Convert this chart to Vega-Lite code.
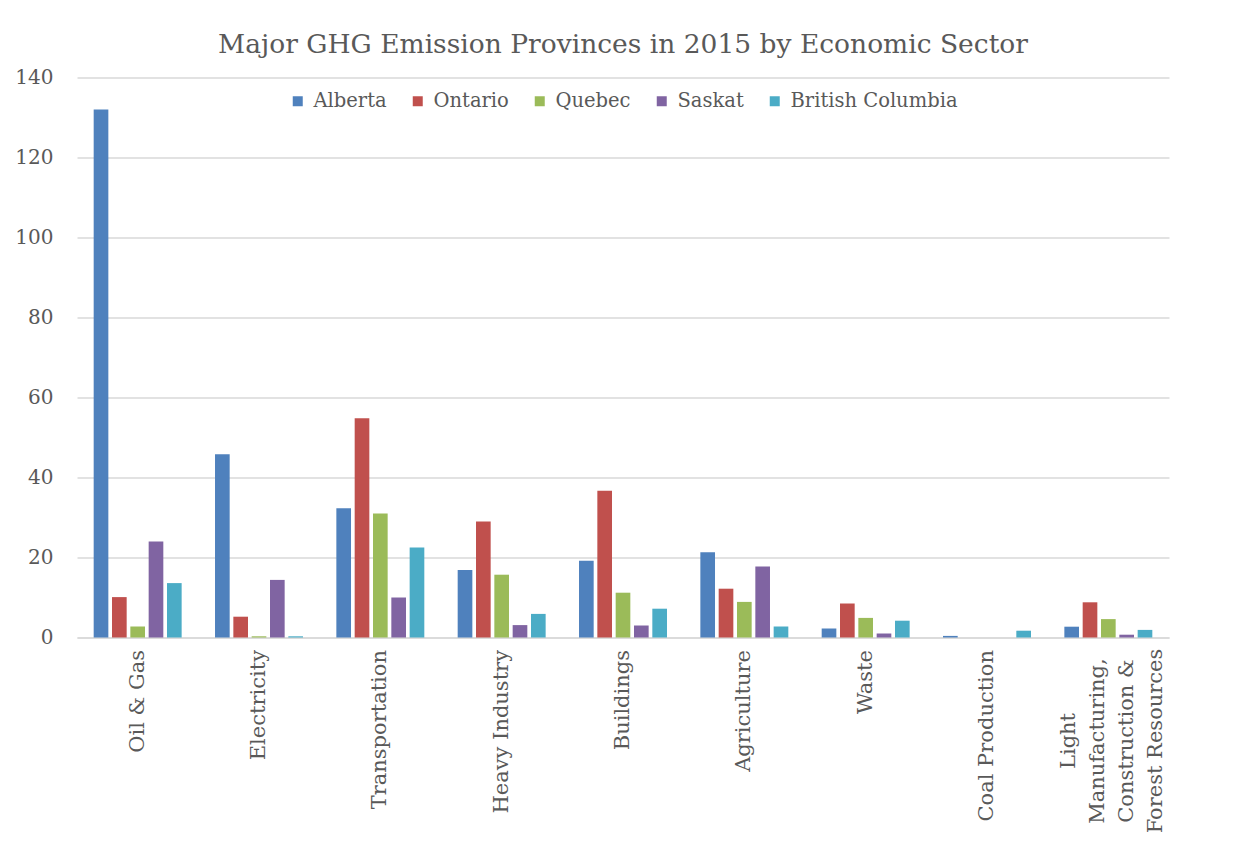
{
  "$schema": "https://vega.github.io/schema/vega-lite/v6.json",
  "width": 1092,
  "height": 560,
  "autosize": {"type": "none"},
  "padding": {"left": 77, "top": 77.5, "right": 81, "bottom": 205.5},
  "background": "white",
  "title": {
    "text": "Major GHG Emission Provinces in 2015 by Economic Sector",
    "font": "DejaVu Serif",
    "fontSize": 26.5,
    "fontWeight": "normal",
    "color": "#595959",
    "anchor": "middle",
    "offset": 9
  },
  "data": {
    "values": [
      {"sector": "Oil & Gas", "province": "Alberta", "value": 132},
      {"sector": "Oil & Gas", "province": "Ontario", "value": 10.1},
      {"sector": "Oil & Gas", "province": "Quebec", "value": 2.75},
      {"sector": "Oil & Gas", "province": "Saskat", "value": 24},
      {"sector": "Oil & Gas", "province": "British Columbia", "value": 13.6},
      {"sector": "Electricity", "province": "Alberta", "value": 45.8},
      {"sector": "Electricity", "province": "Ontario", "value": 5.2},
      {"sector": "Electricity", "province": "Quebec", "value": 0.3},
      {"sector": "Electricity", "province": "Saskat", "value": 14.4},
      {"sector": "Electricity", "province": "British Columbia", "value": 0.3},
      {"sector": "Transportation", "province": "Alberta", "value": 32.3},
      {"sector": "Transportation", "province": "Ontario", "value": 54.8},
      {"sector": "Transportation", "province": "Quebec", "value": 31},
      {"sector": "Transportation", "province": "Saskat", "value": 10},
      {"sector": "Transportation", "province": "British Columbia", "value": 22.5},
      {"sector": "Heavy Industry", "province": "Alberta", "value": 16.9},
      {"sector": "Heavy Industry", "province": "Ontario", "value": 29},
      {"sector": "Heavy Industry", "province": "Quebec", "value": 15.7},
      {"sector": "Heavy Industry", "province": "Saskat", "value": 3.1},
      {"sector": "Heavy Industry", "province": "British Columbia", "value": 5.9},
      {"sector": "Buildings", "province": "Alberta", "value": 19.2},
      {"sector": "Buildings", "province": "Ontario", "value": 36.7},
      {"sector": "Buildings", "province": "Quebec", "value": 11.2},
      {"sector": "Buildings", "province": "Saskat", "value": 3},
      {"sector": "Buildings", "province": "British Columbia", "value": 7.2},
      {"sector": "Agriculture", "province": "Alberta", "value": 21.3},
      {"sector": "Agriculture", "province": "Ontario", "value": 12.2},
      {"sector": "Agriculture", "province": "Quebec", "value": 8.9},
      {"sector": "Agriculture", "province": "Saskat", "value": 17.75},
      {"sector": "Agriculture", "province": "British Columbia", "value": 2.75},
      {"sector": "Waste", "province": "Alberta", "value": 2.25},
      {"sector": "Waste", "province": "Ontario", "value": 8.5},
      {"sector": "Waste", "province": "Quebec", "value": 4.9},
      {"sector": "Waste", "province": "Saskat", "value": 1},
      {"sector": "Waste", "province": "British Columbia", "value": 4.2},
      {"sector": "Coal Production", "province": "Alberta", "value": 0.4},
      {"sector": "Coal Production", "province": "Ontario", "value": 0},
      {"sector": "Coal Production", "province": "Quebec", "value": 0},
      {"sector": "Coal Production", "province": "Saskat", "value": 0},
      {"sector": "Coal Production", "province": "British Columbia", "value": 1.7},
      {"sector": "Light Manufacturing, Construction & Forest Resources", "province": "Alberta", "value": 2.7},
      {"sector": "Light Manufacturing, Construction & Forest Resources", "province": "Ontario", "value": 8.8},
      {"sector": "Light Manufacturing, Construction & Forest Resources", "province": "Quebec", "value": 4.6},
      {"sector": "Light Manufacturing, Construction & Forest Resources", "province": "Saskat", "value": 0.7},
      {"sector": "Light Manufacturing, Construction & Forest Resources", "province": "British Columbia", "value": 1.9}
    ]
  },
  "mark": {"type": "bar"},
  "encoding": {
    "x": {
      "field": "sector",
      "type": "nominal",
      "sort": ["Oil & Gas", "Electricity", "Transportation", "Heavy Industry", "Buildings", "Agriculture", "Waste", "Coal Production", "Light Manufacturing, Construction & Forest Resources"],
      "scale": {"paddingInner": 0.275, "paddingOuter": 0.1375},
      "axis": {
        "title": null,
        "labelAngle": -90,
        "labelAlign": {"condition": {"test": "datum.value == 'Light Manufacturing, Construction & Forest Resources'", "value": "center"}, "value": "right"},
        "labelBaseline": "middle",
        "labelPadding": {"condition": {"test": "datum.value == 'Light Manufacturing, Construction & Forest Resources'", "value": 103}, "value": 12},
        "labelOffset": {"condition": {"test": "datum.value == 'Light Manufacturing, Construction & Forest Resources'", "value": -39}, "value": 0},
        "labelFont": "DejaVu Serif",
        "labelFontSize": 21,
        "labelColor": "#595959",
        "labelLineHeight": 29,
        "labelLimit": 0,
        "labelExpr": "datum.value == 'Light Manufacturing, Construction & Forest Resources' ? ['Light', 'Manufacturing,', 'Construction &', 'Forest Resources'] : datum.label",
        "ticks": false,
        "domainColor": "#D9D9D9",
        "domainWidth": 1.5
      }
    },
    "xOffset": {
      "field": "province",
      "type": "nominal",
      "sort": ["Alberta", "Ontario", "Quebec", "Saskat", "British Columbia"],
      "scale": {"paddingInner": 0.2}
    },
    "y": {
      "field": "value",
      "type": "quantitative",
      "scale": {"domain": [0, 140], "nice": false},
      "axis": {
        "title": null,
        "values": [0, 20, 40, 60, 80, 100, 120, 140],
        "domain": false,
        "ticks": false,
        "labelPadding": 24,
        "labelFont": "DejaVu Serif",
        "labelFontSize": 20,
        "labelColor": "#595959",
        "gridColor": "#D9D9D9",
        "gridWidth": 1.3
      }
    },
    "color": {
      "field": "province",
      "type": "nominal",
      "sort": ["Alberta", "Ontario", "Quebec", "Saskat", "British Columbia"],
      "scale": {
        "domain": ["Alberta", "Ontario", "Quebec", "Saskat", "British Columbia"],
        "range": ["#4F81BD", "#C0504D", "#9BBB59", "#8064A2", "#4BACC6"]
      },
      "legend": {
        "title": null,
        "orient": "none",
        "direction": "horizontal",
        "legendX": 211,
        "legendY": 14,
        "symbolType": "square",
        "symbolSize": 100,
        "symbolStrokeWidth": 0,
        "labelFont": "DejaVu Serif",
        "labelFontSize": 19.5,
        "labelColor": "#595959",
        "labelOffset": 6,
        "labelLimit": 0,
        "columnPadding": 21,
        "gridAlign": "none"
      }
    }
  },
  "config": {"view": {"stroke": null}}
}
